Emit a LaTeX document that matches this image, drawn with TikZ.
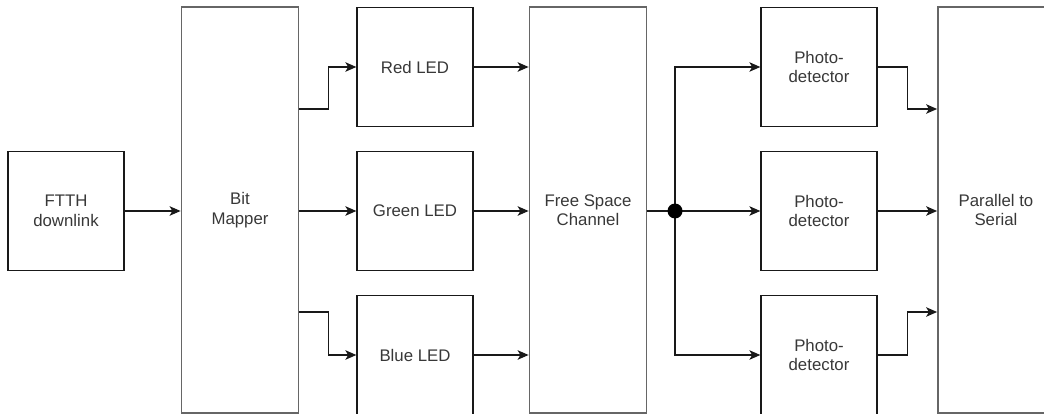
\documentclass[tikz,border=0pt]{standalone}
\usepackage{fontspec}
\setmainfont{Liberation Sans}
\usetikzlibrary{arrows.meta, positioning, calc}
\def\rowT{67}
\def\rowM{211}
\def\rowB{355}
\def\tapT{109}
\def\tapB{312}

\begin{document}
\begin{tikzpicture}[
  x=1pt, y=-1pt,
  >={Stealth[length=11pt, width=9.5pt, inset=2.8pt]},
  box/.style  = {draw=black!90, line width=1.3pt, align=center,
                 minimum width=116pt, minimum height=119pt, inner sep=2pt,
                 font=\fontsize{16.8}{19.5}\selectfont, text=black!78},
  tall/.style = {box, draw=black!60, line width=1.8pt,
                 minimum width=117pt, minimum height=406pt},
  sig/.style  = {->, line width=1.3pt, black!90},
]
\useasboundingbox (0,0) rectangle (1044,414);
\clip (0,0) rectangle (1044,414);

% ---------- blocks ----------
\node[box]  (ftth) at (66,\rowM)  {FTTH\\downlink};
\node[tall] (map)  at (240,210)   {Bit\\Mapper};
\foreach \n/\t/\y in {red/Red LED/\rowT, green/Green LED/\rowM, blue/Blue LED/\rowB}{
  \node[box] (\n) at (415,\y) {\t};
}
\node[tall] (chan) at (588,210) {Free Space\\Channel};
\foreach \i/\y in {1/\rowT, 2/\rowM, 3/\rowB}{
  \node[box] (pd-\i) at (819,\y) {Photo-\\detector};
}
\node[tall, minimum width=116pt] (ps) at (996,210) {Parallel to\\Serial};

% ---------- transmitter side ----------
\draw[sig] (ftth.east) -- (ftth.east -| map.west);
\coordinate (mapT) at (map.east |- {(0,\tapT)});
\coordinate (mapB) at (map.east |- {(0,\tapB)});
\draw[sig] (mapT) -- ++(29,0) |- (red.west);
\draw[sig] (map.east |- green) -- (green.west);
\draw[sig] (mapB) -- ++(29,0) |- (blue.west);
\foreach \n in {red,green,blue}{
  \draw[sig] (\n.east) -- (\n.east -| chan.west);
}

% ---------- receiver side ----------
\coordinate (split) at (675,\rowM);
\draw[sig] (chan.east |- split) -- (pd-2.west);
\draw[sig] (split) |- (pd-1.west);
\draw[sig] (split) |- (pd-3.west);
\fill (split) circle (7.5pt);
\coordinate (psT) at (ps.west |- {(0,\tapT)});
\coordinate (psB) at (ps.west |- {(0,\tapB)});
\draw[sig] (pd-1.east) -- ++(30,0) |- (psT);
\draw[sig] (pd-2.east) -- (pd-2.east -| ps.west);
\draw[sig] (pd-3.east) -- ++(30,0) |- (psB);

\end{tikzpicture}
\end{document}
